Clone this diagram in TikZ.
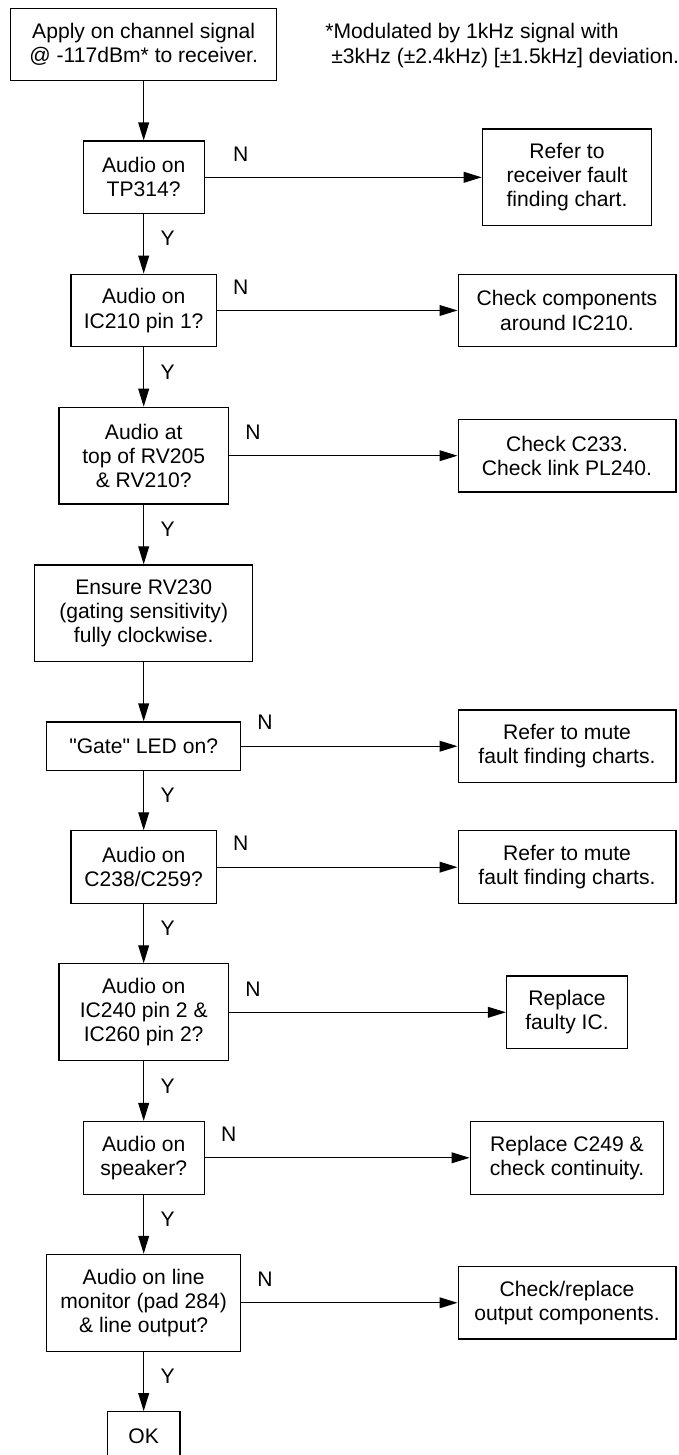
\documentclass[tikz,border=0pt]{standalone}
\usepackage{fontspec}
\setmainfont{Liberation Sans}[Ligatures=TeXOff]
\usepackage{tikz}
\usetikzlibrary{positioning,arrows.meta,calc}
\newcommand{\chartfont}{\fontsize{10.55}{12.1}\selectfont}
\tikzset{
  chartbox/.style={draw, line width=0.6pt, align=center, inner sep=2pt,
                   font=\chartfont},
  onebox/.style={chartbox, minimum height=24.2pt},
  twobox/.style={chartbox, minimum height=36.3pt},
  threebox/.style={chartbox, minimum height=48.4pt},
  flowarrow/.style={-{Triangle[length=9pt, width=5.4pt]}, line width=0.6pt},
  yesno/.style={font=\chartfont, inner sep=0pt},
  notetext/.style={font=\chartfont, align=left, inner sep=0pt},
}
\begin{document}
\begin{tikzpicture}
\def\xL{2.525}   % x-position for question column
\def\xR{9.964}   % x-position for action column
\useasboundingbox (0,0) rectangle (11.932,-25.569);
\coordinate (rcol) at (\xR,0);

%% Question column
\node[twobox, minimum width=133.1pt] (apply) at (\xL,-0.782) {Apply on channel signal\\@ -117dBm* to receiver.};
\node[notetext, anchor=west] (note) at (5.711,-0.80) {*Modulated by 1kHz signal with\\\hspace*{0.28em}±3kHz (±2.4kHz) [±1.5kHz] deviation.};
\node[twobox, minimum width=60.5pt] (tp) at (\xL,-3.116) {Audio on\\TP314?};
\node[twobox, minimum width=72.6pt] (icA) at (\xL,-5.456) {Audio on\\IC210 pin 1?};
\node[threebox, minimum width=84.7pt] (rv) at (\xL,-8.008) {Audio at\\top of RV205\\\& RV210?};
\node[threebox, minimum width=108.9pt] (ensure) at (\xL,-10.778) {Ensure RV230\\(gating sensitivity)\\fully clockwise.};
\node[onebox, minimum width=96.8pt] (gate) at (\xL,-13.113) {"Gate" LED on?};
\node[twobox, minimum width=72.6pt] (cap) at (\xL,-15.239) {Audio on\\C238/C259?};
\node[threebox, minimum width=84.7pt] (icB) at (\xL,-17.789) {Audio on\\IC240 pin 2 \&\\IC260 pin 2?};
\node[twobox, minimum width=60.5pt] (spk) at (\xL,-20.346) {Audio on\\speaker?};
\node[threebox, minimum width=96.8pt] (line) at (\xL,-22.894) {Audio on line\\monitor (pad 284)\\\& line output?};
\node[onebox, minimum width=36.3pt] (ok) at (\xL,-25.233) {OK};

%% Action column
\node[threebox, minimum width=84.7pt] (rxfault) at (tp -| rcol) {Refer to\\receiver fault\\finding chart.};
\node[twobox, minimum width=108.9pt] (around) at (icA -| rcol) {Check components\\around IC210.};
\node[twobox, minimum width=108.9pt] (link) at (rv -| rcol) {Check C233.\\Check link PL240.};
\node[twobox, minimum width=108.9pt] (muteA) at (gate -| rcol) {Refer to mute\\fault finding charts.};
\node[twobox, minimum width=108.9pt] (muteB) at (cap -| rcol) {Refer to mute\\fault finding charts.};
\node[twobox, minimum width=60.5pt] (faulty) at (icB -| rcol) {Replace\\faulty IC.};
\node[twobox, minimum width=96.8pt] (cont) at (spk -| rcol) {Replace C249 \&\\check continuity.};
\node[twobox, minimum width=108.9pt] (output) at (line -| rcol) {Check/replace\\output components.};

%% Yes path
\draw[flowarrow] (apply) -- (tp);
\draw[flowarrow] (tp) -- node[yesno, pos=0, xshift=0.42cm, yshift=-0.43cm] {Y} (icA);
\draw[flowarrow] (icA) -- node[yesno, pos=0, xshift=0.42cm, yshift=-0.43cm] {Y} (rv);
\draw[flowarrow] (rv) -- node[yesno, pos=0, xshift=0.42cm, yshift=-0.43cm] {Y} (ensure);
\draw[flowarrow] (ensure) -- (gate);
\draw[flowarrow] (gate) -- node[yesno, pos=0, xshift=0.42cm, yshift=-0.43cm] {Y} (cap);
\draw[flowarrow] (cap) -- node[yesno, pos=0, xshift=0.42cm, yshift=-0.43cm] {Y} (icB);
\draw[flowarrow] (icB) -- node[yesno, pos=0, xshift=0.42cm, yshift=-0.43cm] {Y} (spk);
\draw[flowarrow] (spk) -- node[yesno, pos=0, xshift=0.42cm, yshift=-0.43cm] {Y} (line);
\draw[flowarrow] (line) -- node[yesno, pos=0, xshift=0.42cm, yshift=-0.43cm] {Y} (ok);

%% No branches
\draw[flowarrow] (tp) -- node[yesno, pos=0, xshift=0.633cm, yshift=0.413cm] {N} (rxfault);
\draw[flowarrow] (icA) -- node[yesno, pos=0, xshift=0.42cm, yshift=0.413cm] {N} (around);
\draw[flowarrow] (rv) -- node[yesno, pos=0, xshift=0.42cm, yshift=0.413cm] {N} (link);
\draw[flowarrow] (gate) -- node[yesno, pos=0, xshift=0.42cm, yshift=0.413cm] {N} (muteA);
\draw[flowarrow] (cap) -- node[yesno, pos=0, xshift=0.42cm, yshift=0.413cm] {N} (muteB);
\draw[flowarrow] (icB) -- node[yesno, pos=0, xshift=0.42cm, yshift=0.413cm] {N} (faulty);
\draw[flowarrow] (spk) -- node[yesno, pos=0, xshift=0.42cm, yshift=0.413cm] {N} (cont);
\draw[flowarrow] (line) -- node[yesno, pos=0, xshift=0.42cm, yshift=0.413cm] {N} (output);
\end{tikzpicture}
\end{document}
